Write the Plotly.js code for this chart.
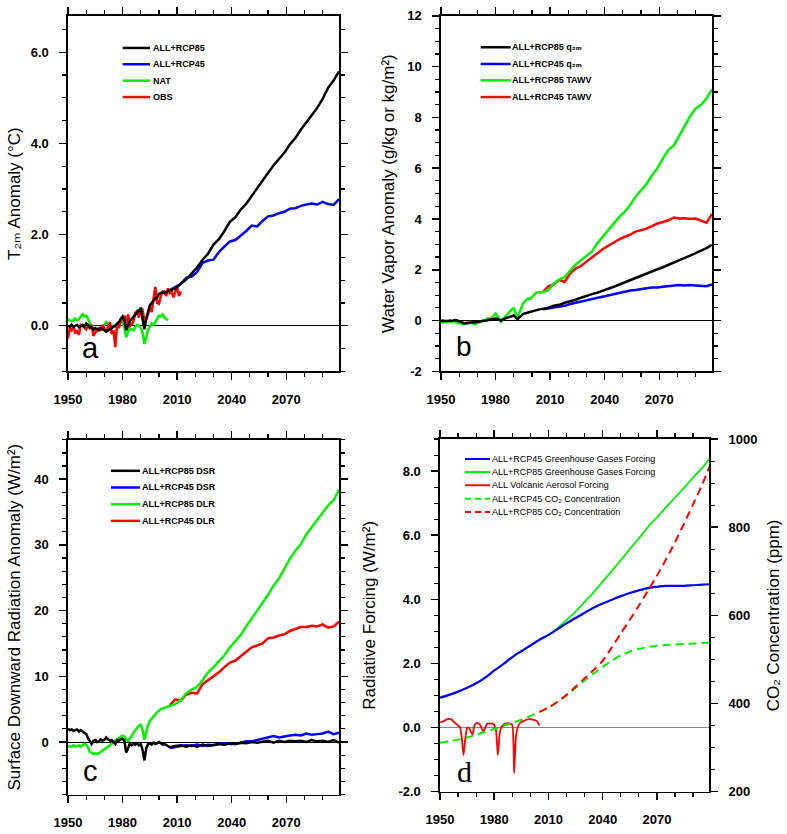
<!DOCTYPE html>
<html>
<head>
<meta charset="utf-8">
<script src="https://cdn.plot.ly/plotly-3.0.1.min.js"></script>
<style>html,body{margin:0;padding:0;background:#fff}#chart{width:787px;height:834px}</style>
</head>
<body>
<div id="chart"></div>
<script>
// ---------------- data ----------------
const YEARS_HIST = [1950,1951,1952,1953,1954,1955,1956,1957,1958,1959,1960,1961,1962,1963,1964,1965,1966,1967,1968,1969,1970,1971,1972,1973,1974,1975,1976,1977,1978,1979,1980,1981,1982,1983,1984,1985,1986,1987,1988,1989,1990,1991,1992,1993,1994,1995,1996,1997,1998,1999,2000,2001,2002,2003,2004,2005];
const YEARS_OBS = [1950,1951,1952,1953,1954,1955,1956,1957,1958,1959,1960,1961,1962,1963,1964,1965,1966,1967,1968,1969,1970,1971,1972,1973,1974,1975,1976,1977,1978,1979,1980,1981,1982,1983,1984,1985,1986,1987,1988,1989,1990,1991,1992,1993,1994,1995,1996,1997,1998,1999,2000,2001,2002,2003,2004,2005,2006,2007,2008,2009,2010,2011,2012];
const YEARS_FUT = [2006,2009,2012,2015,2018,2021,2024,2027,2030,2033,2036,2039,2042,2045,2048,2051,2054,2057,2060,2063,2066,2069,2072,2075,2078,2081,2084,2087,2090,2093,2096,2099];
const YEARS_FORC = [1950,1955,1960,1965,1970,1975,1980,1985,1990,1995,2000,2005,2010,2015,2020,2025,2030,2035,2040,2045,2050,2055,2060,2065,2070,2075,2080,2085,2090,2095,2099];
const YEARS_FORC85 = [2005,2010,2015,2020,2025,2030,2035,2040,2045,2050,2055,2060,2065,2070,2075,2080,2085,2090,2095,2099];

const YEAR_TICKS = [1950,1980,2010,2040,2070];
const YEAR_LABELS = ['1950','1980','2010','2040','2070'];

// (a) 2m temperature anomaly (°C)
const T_NAT = [0.14,0.12,0.10,0.12,0.16,0.12,0.14,0.20,0.25,0.20,
  0.22,0.15,0.05,-0.02,-0.10,-0.08,-0.12,-0.08,-0.10,-0.06,
  0.02,0.08,0.05,-0.05,-0.08,0.00,-0.02,0.02,0.05,0.10,
  0.08,-0.05,-0.25,-0.15,-0.05,-0.08,-0.10,-0.02,0.02,0.00,
  -0.05,-0.15,-0.40,-0.25,-0.08,-0.02,0.05,0.02,0.10,0.15,
  0.22,0.20,0.25,0.18,0.15,0.12];
const T_OBS = [-0.28,-0.05,-0.10,0.00,-0.15,-0.12,-0.20,0.02,0.00,-0.05,
  -0.08,0.00,-0.05,0.02,-0.22,-0.15,-0.08,-0.05,-0.10,0.02,
  -0.05,-0.15,-0.02,0.08,-0.18,-0.10,-0.47,0.05,-0.05,0.10,
  0.15,0.22,0.02,0.25,0.00,0.02,0.10,0.28,0.32,0.18,
  0.40,0.35,0.12,0.15,0.25,0.42,0.30,0.55,0.85,0.50,
  0.48,0.65,0.75,0.75,0.65,0.82,0.72,0.75,0.62,0.75,
  0.85,0.65,0.75];
const T_ALL_HIST = [0.00,-0.02,0.02,-0.02,0.00,0.02,-0.03,0.00,0.02,-0.02,
  0.05,0.02,-0.05,-0.03,-0.08,-0.05,-0.08,-0.10,-0.05,-0.08,
  -0.10,-0.12,-0.10,-0.08,-0.05,-0.02,0.00,0.05,0.08,0.15,
  0.20,0.12,-0.10,0.00,0.10,0.15,0.20,0.25,0.30,0.35,
  0.38,0.15,-0.08,0.15,0.30,0.45,0.50,0.55,0.60,0.62,
  0.70,0.72,0.73,0.72,0.74,0.76];
const T_RCP85 = [0.78,0.82,0.92,1.02,1.15,1.28,1.45,1.58,1.78,1.90,2.08,2.28,2.38,2.55,2.68,2.85,3.02,3.18,3.35,3.52,3.66,3.80,3.98,4.12,4.30,4.45,4.62,4.78,4.98,5.22,5.38,5.58];
const T_RCP45 = [0.78,0.85,0.92,1.05,1.08,1.18,1.38,1.43,1.45,1.62,1.74,1.85,1.88,1.97,2.08,2.20,2.18,2.30,2.40,2.42,2.47,2.50,2.57,2.58,2.63,2.66,2.68,2.66,2.72,2.67,2.65,2.78];

// (b) water vapour anomaly
const WV_TAWV_HIST = [-0.05,-0.08,-0.05,-0.06,-0.02,-0.05,-0.03,0.00,-0.05,-0.10,
  -0.08,-0.12,-0.15,-0.10,-0.08,-0.10,-0.05,-0.08,-0.12,-0.15,
  -0.10,-0.05,-0.02,0.00,-0.02,0.05,0.10,0.08,0.12,0.20,
  0.28,0.18,0.05,-0.05,0.05,0.15,0.20,0.28,0.38,0.45,
  0.48,0.30,0.12,0.30,0.52,0.65,0.75,0.80,0.88,0.85,
  0.95,1.00,1.08,1.10,1.12,1.10];
const WV_TAWV85 = [1.12,1.20,1.45,1.62,1.72,1.95,2.20,2.38,2.55,2.72,3.05,3.30,3.58,3.82,4.08,4.28,4.55,4.88,5.15,5.38,5.72,6.00,6.38,6.72,6.90,7.30,7.70,8.05,8.35,8.50,8.75,9.10];
const WV_TAWV45 = [1.12,1.35,1.42,1.60,1.52,1.85,2.05,2.15,2.32,2.50,2.65,2.82,2.95,3.10,3.20,3.30,3.38,3.50,3.55,3.62,3.72,3.82,3.88,3.95,4.06,4.02,4.03,4.00,4.02,3.95,3.85,4.20];
const WV_Q_HIST = [-0.02,0.00,-0.02,-0.03,-0.02,0.00,-0.02,0.00,0.02,0.00,
  -0.02,-0.05,-0.08,-0.12,-0.10,-0.08,-0.08,-0.07,-0.08,-0.06,
  -0.05,-0.05,-0.03,-0.02,-0.02,0.00,0.02,0.03,0.05,0.07,
  0.08,0.06,0.02,0.00,0.05,0.08,0.10,0.12,0.15,0.18,
  0.20,0.12,0.05,0.12,0.20,0.25,0.28,0.30,0.35,0.35,
  0.38,0.40,0.42,0.42,0.44,0.45];
const WV_Q85 = [0.46,0.50,0.58,0.62,0.70,0.75,0.82,0.90,0.98,1.04,1.10,1.16,1.25,1.33,1.42,1.50,1.58,1.66,1.75,1.85,1.93,2.02,2.10,2.20,2.30,2.38,2.47,2.56,2.65,2.75,2.85,2.98];
const WV_Q45 = [0.44,0.48,0.50,0.56,0.58,0.65,0.70,0.75,0.80,0.86,0.90,0.95,1.00,1.05,1.10,1.15,1.18,1.20,1.25,1.27,1.30,1.30,1.33,1.35,1.38,1.40,1.38,1.40,1.38,1.36,1.35,1.42];

// (c) surface downward radiation anomaly (W/m2)
const SR_DSR_HIST = [2.0,1.8,1.9,1.7,1.8,1.9,1.6,1.8,1.6,1.4,
  1.2,0.6,0.2,-0.3,0.2,0.3,0.0,0.1,0.4,0.2,
  0.3,0.7,0.4,0.2,0.3,0.0,-0.3,0.3,0.2,0.4,
  0.5,0.2,-1.6,-1.0,-0.2,-0.5,-0.3,-0.4,-0.2,-0.5,
  -0.3,-1.2,-2.8,-1.0,-0.3,-0.2,-0.4,-0.1,-0.3,-0.2,
  0.0,-0.2,-0.4,-0.3,-0.5,-0.6];
const SR_DSR85 = [-0.8,-0.6,-0.5,-0.7,-0.5,-0.7,-0.4,-0.6,-0.5,-0.3,-0.4,-0.2,-0.3,-0.1,-0.2,0.0,-0.1,0.1,0.2,-0.1,0.2,0.0,0.2,0.1,0.2,0.0,0.3,0.1,0.2,0.0,0.3,-0.1];
const SR_DSR45 = [-0.9,-0.7,-0.6,-0.5,-0.6,-0.4,-0.6,-0.4,-0.5,-0.3,-0.2,-0.3,-0.3,-0.1,0.1,0.1,0.3,0.4,0.6,0.9,0.7,0.9,1.0,1.1,1.0,1.3,1.1,1.2,1.3,1.6,1.2,1.4];
const SR_DLR_HIST = [-0.8,-0.6,-0.7,-0.5,-0.7,-0.6,-0.5,-0.7,-0.5,-0.3,
  -0.4,-0.8,-1.5,-1.6,-1.8,-1.7,-1.8,-1.7,-1.5,-1.3,
  -1.2,-1.0,-0.8,-0.6,-0.3,0.0,0.2,0.3,0.5,0.8,
  1.0,0.8,0.4,0.2,0.5,0.9,1.4,1.8,2.2,2.5,
  2.6,1.8,0.4,1.6,2.6,3.2,3.6,3.9,4.2,4.5,
  4.8,5.0,5.1,5.2,5.3,5.5];
const SR_DLR85 = [5.6,5.8,6.4,7.4,8.0,8.4,9.4,10.6,11.4,12.3,13.2,14.4,15.3,16.3,17.6,18.8,20.1,21.3,22.4,23.8,24.9,26.4,27.9,29.1,30.1,31.6,32.7,33.9,35.0,36.0,36.8,38.4];
const SR_DLR45 = [5.6,6.5,6.3,7.2,7.5,7.4,8.8,9.4,9.9,10.6,11.4,12.1,12.4,13.1,13.7,14.4,14.7,15.0,15.8,15.9,16.2,16.4,16.9,17.2,17.5,17.5,17.7,17.6,17.9,17.4,17.6,18.3];

// (d) radiative forcing (W/m2) and CO2 concentration (ppm)
const RF_GHG45 = [0.93,1.02,1.12,1.24,1.38,1.56,1.78,1.98,2.20,2.38,2.56,2.74,2.89,3.07,3.25,3.42,3.58,3.74,3.87,3.99,4.10,4.20,4.28,4.35,4.39,4.42,4.42,4.42,4.44,4.46,4.47];
const RF_GHG85 = [2.74,2.89,3.10,3.35,3.62,3.92,4.22,4.55,4.88,5.22,5.57,5.90,6.25,6.56,6.87,7.17,7.48,7.80,8.10,8.38];
const RF_VOLC = [0.16,0.18,0.20,0.23,0.26,0.27,0.26,0.22,0.16,0.11,
  0.06,0.02,-0.30,-0.86,-0.35,-0.02,0.00,-0.12,-0.22,0.05,
  0.13,0.14,0.10,-0.02,-0.14,-0.02,0.12,0.13,0.12,0.13,
  0.08,-0.10,-0.86,-0.20,0.02,0.08,0.12,0.13,0.14,0.11,
  0.08,-1.42,-0.30,0.00,0.12,0.17,0.20,0.22,0.25,0.26,
  0.26,0.25,0.24,0.22,0.17,0.06];
const CO2_45 = [311,314,318,323,329,336,342,349,356,363,372,381,391,404,418,435,452,468,483,497,509,518,524,528,531,533,534,535,536,537,538];
const CO2_85 = [381,391,404,420,438,457,476,497,527,559,590,622,656,690,727,766,808,852,896,937];

// tick labels
const YA_TICKS = [0,2,4,6], YA_LABELS = ['0.0','2.0','4.0','6.0'];
const YB_TICKS = [-2,0,2,4,6,8,10,12], YB_LABELS = ['-2','0','2','4','6','8','10','12'];
const YC_TICKS = [0,10,20,30,40], YC_LABELS = ['0','10','20','30','40'];
const YD_TICKS = [-2,0,2,4,6,8], YD_LABELS = ['-2.0','0.0','2.0','4.0','6.0','8.0'];
const YE_TICKS = [200,400,600,800,1000], YE_LABELS = ['200','400','600','800','1000'];

// ---------------- styling / layout ----------------
const W = 787, H = 834;
const PX = x => x / W;
const PY = y => 1 - y / H;
const FAM = 'Liberation Sans, Arial, Helvetica, DejaVu Sans, sans-serif';
const TICK_FONT = {family: FAM, size: 13, color: '#000', weight: 'bold'};
const TITLE_FONT = {family: FAM, size: 17, color: '#000'};
const BLACK = '#000000', BLUE = '#0000ff', GREEN = '#00ee00', RED = '#ff0000';

const DOM = {
  a: {x: [PX(68), PX(339)], y: [PY(371), PY(9)]},
  b: {x: [PX(441), PX(712)], y: [PY(371), PY(9)]},
  c: {x: [PX(68), PX(339)], y: [PY(802), PY(440.7)]},
  d: {x: [PX(440), PX(709.3)], y: [PY(799), PY(440)]}
};

function xAxis(domain, anchor) {
  return {
    domain, anchor, range: [1950, 2099], tickmode: 'array', tickvals: YEAR_TICKS, ticktext: YEAR_LABELS,
    showline: true, linecolor: '#000', linewidth: 1.6, mirror: 'ticks',
    ticks: 'outside', ticklen: 7, tickwidth: 1.5, tickcolor: '#000',
    minor: {tickmode: 'linear', tick0: 1950, dtick: 10, ticks: 'outside', ticklen: 4, tickwidth: 1.2, tickcolor: '#000'},
    showgrid: false, zeroline: false, tickfont: TICK_FONT, ticklabelstandoff: 8,
    automargin: false, fixedrange: true
  };
}
function yAxis(domain, anchor, range, vals, text, minorStep, title, standoff, opts) {
  return Object.assign({
    domain, anchor, range, tickmode: 'array', tickvals: vals, ticktext: text,
    showline: true, linecolor: '#000', linewidth: 1.6, mirror: 'ticks',
    ticks: 'outside', ticklen: 7, tickwidth: 1.5, tickcolor: '#000',
    minor: {tickmode: 'linear', tick0: 0, dtick: minorStep, ticks: 'outside', ticklen: 4, tickwidth: 1.2, tickcolor: '#000'},
    showgrid: false, zeroline: true, zerolinecolor: '#000', zerolinewidth: 1,
    tickfont: TICK_FONT, ticklabelstandoff: 8,
    title: {text: title, font: TITLE_FONT, standoff: standoff},
    automargin: true, fixedrange: true
  }, opts || {});
}

function line(x, y, xa, ya, color, width, dash, smooth) {
  const ln = {color, width, dash: dash || 'solid'};
  if (smooth) { ln.shape = 'spline'; ln.smoothing = smooth; }
  return {type: 'scatter', mode: 'lines', x, y, xaxis: xa, yaxis: ya,
    line: ln, hoverinfo: 'skip', showlegend: false};
}

const traces = [
  // (a)
  line(YEARS_HIST, T_NAT, 'x', 'y', GREEN, 2.5),
  line(YEARS_OBS, T_OBS, 'x', 'y', RED, 2.5),
  line(YEARS_FUT, T_RCP45, 'x', 'y', BLUE, 2.5),
  line(YEARS_HIST.concat(YEARS_FUT), T_ALL_HIST.concat(T_RCP85), 'x', 'y', BLACK, 2.5),
  // (b)
  line(YEARS_FUT, WV_TAWV45, 'x2', 'y2', RED, 2.5),
  line(YEARS_HIST.concat(YEARS_FUT), WV_TAWV_HIST.concat(WV_TAWV85), 'x2', 'y2', GREEN, 2.5),
  line(YEARS_FUT, WV_Q45, 'x2', 'y2', BLUE, 2.5),
  line(YEARS_HIST.concat(YEARS_FUT), WV_Q_HIST.concat(WV_Q85), 'x2', 'y2', BLACK, 2.5),
  // (c)
  line(YEARS_FUT, SR_DLR45, 'x3', 'y3', RED, 2.5),
  line(YEARS_HIST.concat(YEARS_FUT), SR_DLR_HIST.concat(SR_DLR85), 'x3', 'y3', GREEN, 2.5),
  line(YEARS_FUT, SR_DSR45, 'x3', 'y3', BLUE, 2.5),
  line(YEARS_HIST.concat(YEARS_FUT), SR_DSR_HIST.concat(SR_DSR85), 'x3', 'y3', BLACK, 2.5),
  // (d)
  line(YEARS_FORC85, RF_GHG85, 'x4', 'y4', GREEN, 1.8, null, 0.8),
  line(YEARS_FORC, RF_GHG45, 'x4', 'y4', BLUE, 2.2, null, 0.8),
  line(YEARS_HIST, RF_VOLC, 'x4', 'y4', RED, 1.8, null, 0.6),
  line(YEARS_FORC, CO2_45, 'x4', 'y5', GREEN, 2, '8px,5px', 0.8),
  line(YEARS_FORC85, CO2_85, 'x4', 'y5', RED, 2, '8px,5px', 0.8)
];

// manual legends (positions in px)
const LEGENDS = [
  {x0: 122.7, x1: 150, tx: 152, rows: [41.7, 58.3, 75, 91.7], bold: true,
   items: [['ALL+RCP85', BLACK], ['ALL+RCP45', BLUE], ['NAT', GREEN], ['OBS', RED]]},
  {x0: 480.7, x1: 510.7, tx: 511, rows: [41, 58, 74.7, 91.7], bold: true,
   items: [['ALL+RCP85 q₂ₘ', BLACK], ['ALL+RCP45 q₂ₘ', BLUE], ['ALL+RCP85 TAWV', GREEN], ['ALL+RCP45 TAWV', RED]]},
  {x0: 111, x1: 140, tx: 141, rows: [472.3, 489.3, 506.3, 523.3], bold: true,
   items: [['ALL+RCP85 DSR', BLACK], ['ALL+RCP45 DSR', BLUE], ['ALL+RCP85 DLR', GREEN], ['ALL+RCP45 DLR', RED]]},
  {x0: 465, x1: 490, tx: 490.5, rows: [460.3, 473.6, 487, 500.7, 514.3], bold: false,
   items: [['ALL+RCP45 Greenhouse Gases Forcing', BLUE], ['ALL+RCP85 Greenhouse Gases Forcing', GREEN],
           ['ALL Volcanic Aerosol Forcing', RED], ['ALL+RCP45 CO₂ Concentration', GREEN, 'dash'],
           ['ALL+RCP85 CO₂ Concentration', RED, 'dash']]}
];

const shapes = [], annotations = [];
LEGENDS.forEach(L => {
  L.items.forEach((it, i) => {
    const y = L.rows[i];
    shapes.push({type: 'line', xref: 'paper', yref: 'paper', x0: PX(L.x0), x1: PX(L.x1), y0: PY(y), y1: PY(y),
      line: {color: it[1], width: L.bold ? 2.5 : 2, dash: it[2] ? '6px,4px' : 'solid'}});
    annotations.push({xref: 'paper', yref: 'paper', x: PX(L.tx), y: PY(y), xanchor: 'left', yanchor: 'middle',
      text: it[0], showarrow: false, borderpad: 0,
      font: {family: FAM, size: 9, color: '#000', weight: L.bold ? 'bold' : 'normal'}});
  });
});
// panel letters
[['a', 90.5, 347, FAM, 29], ['b', 463.8, 346, FAM, 28], ['c', 90.3, 778, FAM, 29], ['d', 464.2, 778, 'Liberation Serif, Times New Roman, serif', 30]]
  .forEach(p => annotations.push({xref: 'paper', yref: 'paper', x: PX(p[1]), y: PY(p[2]), xanchor: 'center', yanchor: 'middle',
    text: p[0], showarrow: false, font: {family: p[3], size: p[4], color: '#000'}}));

const layout = {
  width: W, height: H, margin: {l: 0, r: 0, t: 0, b: 0, pad: 0},
  paper_bgcolor: '#fff', plot_bgcolor: '#fff', showlegend: false,
  xaxis: xAxis(DOM.a.x, 'y'),
  yaxis: yAxis(DOM.a.y, 'x', [-1, 6.8], YA_TICKS, YA_LABELS, 0.5, 'T₂ₘ Anomaly (°C)', 6),
  xaxis2: xAxis(DOM.b.x, 'y2'),
  yaxis2: yAxis(DOM.b.y, 'x2', [-2, 12], YB_TICKS, YB_LABELS, 0.5, 'Water Vapor Anomaly (g/kg or kg/m²)', 8),
  xaxis3: xAxis(DOM.c.x, 'y3'),
  yaxis3: yAxis(DOM.c.y, 'x3', [-8, 46], YC_TICKS, YC_LABELS, 2, 'Surface Downward Radiation Anomaly (W/m²)', 9),
  xaxis4: xAxis(DOM.d.x, 'y4'),
  yaxis4: yAxis(DOM.d.y, 'x4', [-2, 9], YD_TICKS, YD_LABELS, 0.5, 'Radiative Forcing (W/m²)', 18,
    {mirror: false, zerolinecolor: '#888', zerolinewidth: 1.5}),
  yaxis5: yAxis(DOM.d.y, 'x4', [200, 1000], YE_TICKS, YE_LABELS, 50, 'CO₂ Concentration (ppm)', 10,
    {overlaying: 'y4', side: 'right', mirror: false, zeroline: false,
     minor: {tickmode: 'linear', tick0: 200, dtick: 50, ticks: 'outside', ticklen: 4, tickwidth: 1.2, tickcolor: '#000'}}),
  shapes, annotations
};

Plotly.newPlot('chart', traces, layout, {staticPlot: true, displayModeBar: false});
</script>
</body>
</html>
